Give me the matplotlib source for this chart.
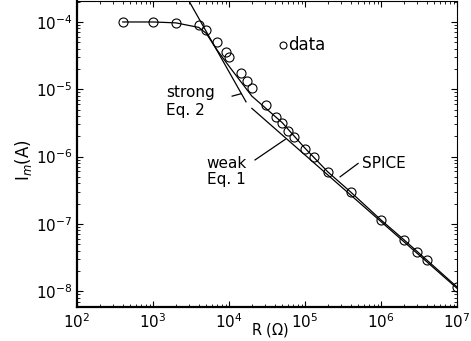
import matplotlib.pyplot as plt

# measured data (open circles)
data_R = [400, 1000, 2000, 4000, 5000, 7000, 9000, 1.0e4, 1.45e4, 1.7e4, 2.0e4,
          3.1e4, 4.2e4, 5.0e4, 6.0e4, 7.2e4, 1.0e5, 1.3e5, 2.0e5, 4.0e5,
          1.0e6, 2.0e6, 3.0e6, 4.0e6, 1.0e7]
data_I = [1.0e-4, 1.0e-4, 9.7e-5, 8.9e-5, 7.6e-5, 5.0e-5, 3.6e-5, 3.0e-5, 1.75e-5, 1.33e-5, 1.04e-5,
          5.9e-6, 3.9e-6, 3.2e-6, 2.4e-6, 1.95e-6, 1.29e-6, 9.8e-7, 5.9e-7, 2.96e-7,
          1.14e-7, 5.8e-8, 3.8e-8, 2.9e-8, 1.15e-8]

# SPICE simulation
spice_R = [400, 1000, 2000, 4000, 5000, 7000, 1.0e4, 2.0e4, 5.0e4, 1.0e5, 2.0e5,
           4.0e5, 1.0e6, 2.0e6, 4.0e6, 1.0e7]
spice_I = [1.0e-4, 1.0e-4, 9.7e-5, 8.3e-5, 6.8e-5, 3.8e-5, 2.2e-5, 7.9e-6, 3.2e-6, 1.33e-6, 5.9e-7,
           2.96e-7, 1.14e-7, 5.8e-8, 2.9e-8, 1.15e-8]

# strong inversion model (Eq. 2)
strong_R = [2500, 1.675e4]
strong_I = [2.9e-4, 6.5e-6]

# weak inversion model (Eq. 1)
weak_R = [2.0e4, 1.0e7]
weak_I = [5.2e-6, 1.1e-8]

plt.rcParams['font.family'] = ['DejaVu Sans']
plt.rcParams['mathtext.fontset'] = 'dejavusans'

fig = plt.figure(figsize=(4.71, 3.41), dpi=100)
ax = fig.add_axes([77 / 471, 1 - 307 / 341, 380 / 471, 306 / 341])

ax.plot(spice_R, spice_I, color='black', lw=0.9)
ax.plot(strong_R, strong_I, color='black', lw=0.9)
ax.plot(weak_R, weak_I, color='black', lw=0.9)
ax.plot(data_R, data_I, 'o', mfc='none', mec='black', ms=6.5, mew=0.8)

ax.set_xscale('log')
ax.set_yscale('log')
ax.set_xlim(1e2, 1e7)
ax.set_ylim(5.8e-9, 2.05e-4)

ax.tick_params(which='both', direction='in', top=True, right=True, labelsize=11)
ax.tick_params(which='major', length=4)
ax.tick_params(which='minor', length=2)
for s in ['left', 'bottom']:
    ax.spines[s].set_linewidth(1.6)
for s in ['top', 'right']:
    ax.spines[s].set_linewidth(0.8)

# annotations
ax.plot([5.1e4], [4.6e-5], 'o', mfc='none', mec='black', ms=5, mew=0.8)
ax.text(6.0e4, 4.6e-5, 'data', fontsize=12, va='center', ha='left')

ax.text(1.5e3, 8.8e-6, 'strong', fontsize=11, va='center', ha='left')
ax.text(1.5e3, 4.9e-6, 'Eq. 2', fontsize=11, va='center', ha='left')
ax.plot([1.1e4, 1.45e4], [7.9e-6, 8.6e-6], color='black', lw=0.9)

ax.text(5.1e3, 7.9e-7, 'weak', fontsize=11, va='center', ha='left')
ax.text(5.1e3, 4.5e-7, 'Eq. 1', fontsize=11, va='center', ha='left')
ax.plot([2.2e4, 5.5e4], [8.9e-7, 1.8e-6], color='black', lw=0.9)

ax.text(5.6e5, 7.9e-7, 'SPICE', fontsize=11, va='center', ha='left')
ax.plot([2.9e5, 5.0e5], [5.0e-7, 7.9e-7], color='black', lw=0.9)

fig.text(270 / 471, 2 / 341, r'R ($\Omega$)', fontsize=10.5, ha='center', va='bottom')
fig.text(23 / 471, 1 - 160 / 341, r'I$_m$(A)', fontsize=12, ha='center', va='center', rotation=90)

fig.savefig('out.png', dpi=100)
